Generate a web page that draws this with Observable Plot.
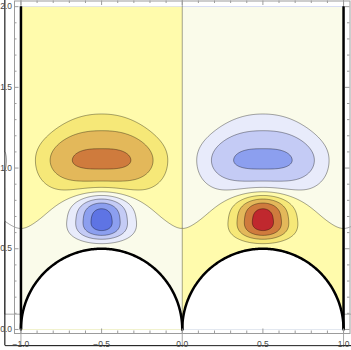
<!DOCTYPE html>
<html><head><meta charset="utf-8">
<script src="https://cdn.jsdelivr.net/npm/d3@7"></script>
<script src="https://cdn.jsdelivr.net/npm/@observablehq/plot@0.6"></script>
<style>html,body{margin:0;padding:0;background:#fff}</style>
</head><body><div id="chart"></div>
<script>
// ---- tick labels ----
const xTickLabels = [-1, -0.5, 0, 0.5, 1];
const yTickLabels = [0, 0.5, 1, 1.5, 2];
const minorStep = 0.1;

// ---- contour levels and band colours (lowest band first) ----
const contourLevels = [-4, -3, -2, -1, 0, 1, 2, 3, 4];
const bandColors = ["#5e74e4", "#8c9fef", "#c4cbf5", "#e8ebfb", "#fafbea",
                    "#fffbac", "#f6e878", "#e3b85a", "#cf7b3d", "#c0282e"];

// ---- obstacles (half discs on the bottom edge) ----
const obstacleX = [-0.5, 0.5];
const obstacleR = 0.5;

// ---- field lobes of the left half; the right half is their mirror with opposite sign ----
const blobX = [-0.5, -0.5, -0.5];
const blobY = [1.048, 0.682, 0.6];
const blobAmp = [3.23, -4.68, -0.01];
const blobSx = [0.40, 0.178, 0.40];
const blobPx = [3.3, 2, 2];
const blobSyUp = [0.265, 0.156, 0.12];
const blobSyDown = [0.20, 0.13, 0.25];
const blobPy = [2, 3, 4];
const blobDomeFloor = [0.3, 1, 1];     // upper half-height shrinks away from the lobe centre
const blobDomeReach = [0.48, 1, 1];

const profile = (d, s, p) => Math.exp(-Math.pow(Math.abs(d) / s, p));
function lobe(i, d, y) {
  const dy = y - blobY[i];
  const fl = blobDomeFloor[i];
  const sUp = blobSyUp[i] * (fl + (1 - fl) * Math.exp(-Math.pow(d / blobDomeReach[i], 2)));
  return profile(d, blobSx[i], blobPx[i]) *
         profile(dy, dy > 0 ? sUp : blobSyDown[i], blobPy[i]);
}
function field(x, y) {
  let v = 0;
  for (let i = 0; i < blobAmp.length; i++) {
    for (let k = -1; k <= 1; k++) {
      v += blobAmp[i] * (lobe(i, x - (blobX[i] + 2 * k), y) - lobe(i, x - (-blobX[i] + 2 * k), y));
    }
  }
  return v;
}

const arcPts = obstacleX.flatMap(cx => d3.range(0, 181).map(a => ({
  cx, x: cx + obstacleR * Math.cos(a * Math.PI / 180), y: obstacleR * Math.sin(a * Math.PI / 180)
})));

const near = (arr, v) => arr.some(t => Math.abs(t - v) < 1e-9);
const xMinor = d3.range(-10, 11).map(i => +(i * minorStep).toFixed(2)).filter(v => !near(xTickLabels, v));
const yMinor = d3.range(0, 21).map(i => +(i * minorStep).toFixed(2)).filter(v => !near(yTickLabels, v));

const W = 351, H = 350, mL = 14, mR = 1.5, mT = 0.5, mB = 17;
const FW = W - mL - mR, FH = H - mT - mB;
const frameColor = "#9c9c9c";
const labelColor = "#4a4a4a";
const fmt = d3.format(".1f");
const font = "Liberation Sans, Arial, sans-serif";

const chart = Plot.plot({
  width: W, height: H,
  marginLeft: mL, marginRight: mR, marginTop: mT, marginBottom: mB,
  x: {domain: [-1.04, 1.04], axis: null},
  y: {domain: [-0.025, 2.035], axis: null},
  color: {type: "ordinal", domain: [-10, ...contourLevels], range: bandColors},
  style: {background: "white"},
  marks: [
    Plot.contour({value: field, fill: "value", stroke: "none",
      x1: -1, x2: 1, y1: 0, y2: 2, thresholds: [-10, ...contourLevels], pixelSize: 1}),
    Plot.contour({value: field, fill: "none", stroke: "black", strokeOpacity: 0.4, strokeWidth: 0.9,
      x1: -1.1, x2: 1.1, y1: -0.1, y2: 2.1, thresholds: contourLevels, pixelSize: 1,
      ariaLabel: "contour lines"}),
    Plot.areaY(arcPts, {x: "x", y: "y", z: "cx", fill: "white"}),
    Plot.line(arcPts, {x: "x", y: "y", z: "cx", stroke: "black", strokeWidth: 2.5}),
    Plot.ruleX([-1, 1], {y1: 0, y2: 2, stroke: "black", strokeWidth: 2.5}),
    Plot.frame({stroke: frameColor}),
    Plot.ruleX(xTickLabels, {insetTop: FH - 4.5, stroke: frameColor}),
    Plot.ruleX(xTickLabels, {insetBottom: FH - 4.5, stroke: frameColor}),
    Plot.ruleX(xMinor, {insetTop: FH - 2.5, stroke: frameColor}),
    Plot.ruleX(xMinor, {insetBottom: FH - 2.5, stroke: frameColor}),
    Plot.ruleY(yTickLabels, {insetRight: FW - 4.5, stroke: frameColor}),
    Plot.ruleY(yTickLabels, {insetLeft: FW - 4.5, stroke: frameColor}),
    Plot.ruleY(yMinor, {insetRight: FW - 2.5, stroke: frameColor}),
    Plot.ruleY(yMinor, {insetLeft: FW - 2.5, stroke: frameColor}),
    Plot.text(xTickLabels, {x: d => d, frameAnchor: "bottom", lineAnchor: "top", dy: 7,
      text: d => fmt(d), fontSize: 8.5, fill: labelColor, fontFamily: font}),
    Plot.text(yTickLabels, {y: d => d, frameAnchor: "left", textAnchor: "end", dx: -2.5,
      text: d => fmt(d), fontSize: 8.5, fill: labelColor, fontFamily: font})
  ]
});

// clip the contour lines to the data rectangle
const xs = chart.scale("x"), ys = chart.scale("y");
const ns = "http://www.w3.org/2000/svg";
const cp = document.createElementNS(ns, "clipPath");
cp.setAttribute("id", "field-clip");
const cr = document.createElementNS(ns, "rect");
cr.setAttribute("x", xs.apply(-1));
cr.setAttribute("y", ys.apply(2));
cr.setAttribute("width", xs.apply(1) - xs.apply(-1));
cr.setAttribute("height", ys.apply(0) - ys.apply(2));
cp.appendChild(cr);
chart.insertBefore(cp, chart.firstChild);
const lineGroup = chart.querySelector('[aria-label="contour lines"]');
if (lineGroup) lineGroup.setAttribute("clip-path", "url(#field-clip)");

document.getElementById("chart").appendChild(chart);
</script>
</body></html>
